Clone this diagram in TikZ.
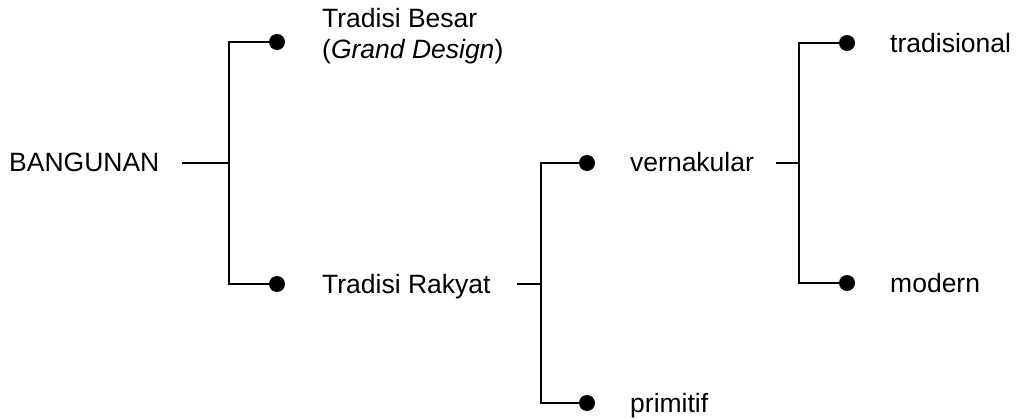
\documentclass[tikz,border=0pt]{standalone}
\usepackage{fontspec}
\setmainfont{Liberation Sans}
\begin{document}
\begin{tikzpicture}[x=1pt,y=-1pt,
  lbl/.style={anchor=base west,inner sep=0pt,font=\fontsize{26.5}{31}\selectfont},
  dot/.style={circle,fill=black,inner sep=0pt,minimum size=16pt},
  conn/.style={line width=2pt}]
\useasboundingbox (0,0) rectangle (1033,419);
% texts
\node[lbl] (bangunan) at (9,172) {BANGUNAN};
\node[lbl] (besar) at (322,28) {Tradisi Besar};
\node[lbl] (grand) at (322,59) {(\textit{Grand Design})};
\node[lbl] (rakyat) at (322,294) {Tradisi Rakyat};
\node[lbl] (vern) at (630,172) {vernakular};
\node[lbl] (prim) at (630,412) {primitif};
\node[lbl] (trad) at (890,53) {tradisional};
\node[lbl] (mod) at (890,293) {modern};
% dots
\node[dot] (d1) at (277,42) {};
\node[dot] (d2) at (277,284) {};
\node[dot] (d3) at (587,163) {};
\node[dot] (d4) at (587,403) {};
\node[dot] (d5) at (847,43) {};
\node[dot] (d6) at (847,283) {};
% connector ends and junctions
\coordinate (s1) at (182,163);
\coordinate (j1) at (229,163);
\coordinate (s2) at (517,284);
\coordinate (j2) at (541,284);
\coordinate (s3) at (776,163);
\coordinate (j3) at (799,163);
% connectors
\draw[conn] (s1) -- (j1);
\draw[conn] (d1.center) -| (j1) |- (d2.center);
\draw[conn] (s2) -- (j2);
\draw[conn] (d3.center) -| (j2) |- (d4.center);
\draw[conn] (s3) -- (j3);
\draw[conn] (d5.center) -| (j3) |- (d6.center);
\end{tikzpicture}
\end{document}
